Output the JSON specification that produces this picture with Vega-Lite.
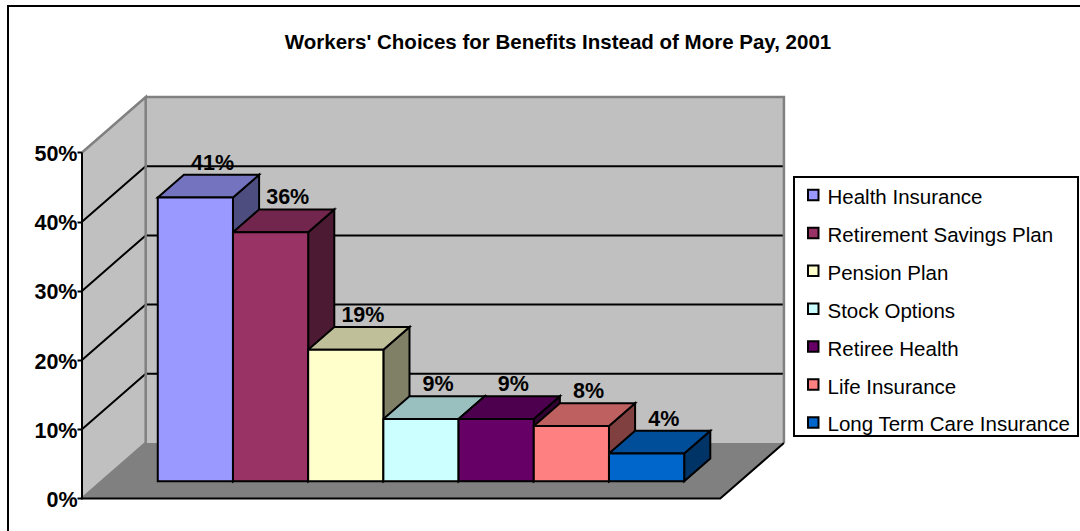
{
  "$schema": "https://vega.github.io/schema/vega-lite/v6.json",
  "width": 1072,
  "height": 525,
  "padding": {"left": 8, "top": 6, "right": 0, "bottom": 0},
  "autosize": {"type": "none"},
  "background": "white",
  "config": {"view": {"stroke": null}, "font": "Liberation Sans", "legend": {"strokeWidth": 2}},
  "title": {
    "text": "Workers' Choices for Benefits Instead of More Pay, 2001",
    "font": "Liberation Sans",
    "fontSize": 20.5,
    "fontWeight": "bold",
    "color": "black",
    "anchor": "middle",
    "dx": 14,
    "offset": -67,
    "baseline": "alphabetic"
  },
  "datasets": {
    "benefits": [
      {"benefit": "Health Insurance", "share": 41},
      {"benefit": "Retirement Savings Plan", "share": 36},
      {"benefit": "Pension Plan", "share": 19},
      {"benefit": "Stock Options", "share": 9},
      {"benefit": "Retiree Health", "share": 9},
      {"benefit": "Life Insurance", "share": 8},
      {"benefit": "Long Term Care Insurance", "share": 4}
    ],
    "percentScale": [
      {"pct": 0}, {"pct": 10}, {"pct": 20}, {"pct": 30}, {"pct": 40}, {"pct": 50}
    ]
  },
  "encoding": {
    "x": {
      "field": "u",
      "type": "quantitative",
      "axis": null,
      "scale": {"domain": [-0.984, 13.271], "nice": false, "zero": false}
    },
    "y": {
      "field": "v",
      "type": "quantitative",
      "title": null,
      "scale": {"domain": [-4.697, 71.17], "nice": false, "zero": false},
      "axis": {
        "values": [0, 10, 20, 30, 40, 50],
        "labelExpr": "datum.value + '%'",
        "offset": -74,
        "domain": false,
        "grid": false,
        "ticks": true,
        "tickSize": 5,
        "tickWidth": 2,
        "tickColor": "black",
        "labelFont": "Liberation Sans",
        "labelFontSize": 21.5,
        "labelFontWeight": "bold",
        "labelColor": "black",
        "labelPadding": 0,
        "labelOffset": 2
      }
    }
  },
  "resolve": {"scale": {"color": "independent"}},
  "layer": [
    {
      "description": "Back wall",
      "data": {"name": "percentScale"},
      "transform": [
        {"filter": "datum.pct == 50"},
        {"calculate": "0.847", "as": "u"},
        {"calculate": "8.487 + 0.847", "as": "u2"},
        {"calculate": "datum.pct + 8.02", "as": "v"},
        {"calculate": "8.02", "as": "v2"}
      ],
      "mark": {"type": "rect", "fill": "#c0c0c0"},
      "encoding": {"x2": {"field": "u2"}, "y2": {"field": "v2"}}
    },
    {
      "description": "Left wall",
      "data": {"name": "percentScale"},
      "transform": [
        {"filter": "datum.pct == 50"},
        {"calculate": "[0, 1]", "as": "d"},
        {"flatten": ["d"]},
        {"calculate": "datum.d * 0.847", "as": "u"},
        {"calculate": "datum.pct + datum.d * 8.02", "as": "v"},
        {"calculate": "datum.d * 8.02", "as": "v2"}
      ],
      "mark": {"type": "area", "fill": "#c0c0c0"},
      "encoding": {"y2": {"field": "v2"}}
    },
    {
      "description": "Floor",
      "data": {"name": "percentScale"},
      "transform": [
        {"filter": "datum.pct == 0"},
        {"calculate": "[0, 1]", "as": "d"},
        {"flatten": ["d"]},
        {"calculate": "datum.d * 0.847", "as": "u"},
        {"calculate": "8.487 + datum.d * 0.847", "as": "u2"},
        {"calculate": "datum.d * 8.02", "as": "v"}
      ],
      "mark": {"type": "area", "orient": "horizontal", "fill": "#808080"},
      "encoding": {"x2": {"field": "u2"}}
    },
    {
      "description": "Gridlines across the left and back walls",
      "data": {"name": "percentScale"},
      "transform": [
        {"filter": "datum.pct > 0 && datum.pct < 50"},
        {"calculate": "[{k: 0, a: 0, d: 0}, {k: 1, a: 0, d: 1}, {k: 2, a: 8.487, d: 1}]", "as": "p"},
        {"flatten": ["p"]},
        {"calculate": "datum.p.k", "as": "k"},
        {"calculate": "datum.p.a + datum.p.d * 0.847", "as": "u"},
        {"calculate": "datum.pct + datum.p.d * 8.02", "as": "v"}
      ],
      "mark": {"type": "line", "stroke": "black", "strokeWidth": 2},
      "encoding": {
        "detail": {"field": "pct"},
        "order": {"field": "k", "type": "quantitative"}
      }
    },
    {
      "description": "Grey wall edges",
      "data": {"name": "percentScale"},
      "transform": [
        {"filter": "datum.pct == 50"},
        {"calculate": "[{k: 0, a: 0, d: 0, h: 0}, {k: 1, a: 0, d: 1, h: 0}, {k: 2, a: 0, d: 1, h: 50}, {k: 3, a: 0, d: 0, h: 50}, {k: 4, a: 0, d: 1, h: 50}, {k: 5, a: 8.487, d: 1, h: 50}, {k: 6, a: 8.487, d: 1, h: 0}]", "as": "p"},
        {"flatten": ["p"]},
        {"calculate": "datum.p.k", "as": "k"},
        {"calculate": "datum.p.a + datum.p.d * 0.847", "as": "u"},
        {"calculate": "datum.p.h + datum.p.d * 8.02", "as": "v"}
      ],
      "mark": {"type": "line", "stroke": "#808080", "strokeWidth": 2.5},
      "encoding": {"order": {"field": "k", "type": "quantitative"}}
    },
    {
      "description": "Value axis line and the front and right floor edges",
      "data": {"name": "percentScale"},
      "transform": [
        {"filter": "datum.pct == 50"},
        {"calculate": "[{k: 0, a: 8.487, d: 1, h: 0}, {k: 1, a: 8.487, d: 0, h: 0}, {k: 2, a: 0, d: 0, h: 0}, {k: 3, a: 0, d: 0, h: 50}]", "as": "p"},
        {"flatten": ["p"]},
        {"calculate": "datum.p.k", "as": "k"},
        {"calculate": "datum.p.a + datum.p.d * 0.847", "as": "u"},
        {"calculate": "datum.p.h + datum.p.d * 8.02", "as": "v"}
      ],
      "mark": {"type": "line", "stroke": "black", "strokeWidth": 2},
      "encoding": {"order": {"field": "k", "type": "quantitative"}}
    },
    {
      "description": "Right-hand side faces of the columns",
      "data": {"name": "benefits"},
      "transform": [
        {"window": [{"op": "row_number", "as": "rank"}]},
        {"calculate": "[0.31, 0.72]", "as": "d"},
        {"flatten": ["d"]},
        {"calculate": "0.745 + datum.rank + datum.d * 0.847", "as": "u"},
        {"calculate": "datum.share + datum.d * 8.02", "as": "v"},
        {"calculate": "datum.d * 8.02", "as": "v2"}
      ],
      "mark": {"type": "area", "stroke": "black", "strokeWidth": 2},
      "encoding": {
        "y2": {"field": "v2"},
        "color": {
          "field": "benefit",
          "type": "nominal",
          "legend": null,
          "scale": {
            "domain": ["Health Insurance", "Retirement Savings Plan", "Pension Plan", "Stock Options", "Retiree Health", "Life Insurance", "Long Term Care Insurance"],
            "range": ["#4d4d80", "#4d1a33", "#808066", "#668080", "#330033", "#804040", "#003366"]
          }
        }
      }
    },
    {
      "description": "Top faces of the columns",
      "data": {"name": "benefits"},
      "transform": [
        {"window": [{"op": "row_number", "as": "rank"}]},
        {"calculate": "[0.31, 0.72]", "as": "d"},
        {"flatten": ["d"]},
        {"calculate": "0.745 + datum.rank - 1 + datum.d * 0.847", "as": "u"},
        {"calculate": "0.745 + datum.rank + datum.d * 0.847", "as": "u2"},
        {"calculate": "datum.share + datum.d * 8.02", "as": "v"}
      ],
      "mark": {"type": "area", "orient": "horizontal", "stroke": "black", "strokeWidth": 2},
      "encoding": {
        "x2": {"field": "u2"},
        "color": {
          "field": "benefit",
          "type": "nominal",
          "legend": null,
          "scale": {
            "domain": ["Health Insurance", "Retirement Savings Plan", "Pension Plan", "Stock Options", "Retiree Health", "Life Insurance", "Long Term Care Insurance"],
            "range": ["#7373bf", "#73264d", "#bfbf99", "#99bfbf", "#4d004d", "#bf6060", "#004d99"]
          }
        }
      }
    },
    {
      "description": "Front faces of the columns, carrying the legend",
      "data": {"name": "benefits"},
      "transform": [
        {"window": [{"op": "row_number", "as": "rank"}]},
        {"calculate": "0.745 + datum.rank - 1 + 0.31 * 0.847", "as": "u"},
        {"calculate": "0.745 + datum.rank + 0.31 * 0.847", "as": "u2"},
        {"calculate": "datum.share + 0.31 * 8.02", "as": "v"},
        {"calculate": "0.31 * 8.02", "as": "v2"}
      ],
      "mark": {"type": "rect", "stroke": "black", "strokeWidth": 2},
      "encoding": {
        "x2": {"field": "u2"},
        "y2": {"field": "v2"},
        "color": {
          "field": "benefit",
          "type": "nominal",
          "scale": {
            "domain": ["Health Insurance", "Retirement Savings Plan", "Pension Plan", "Stock Options", "Retiree Health", "Life Insurance", "Long Term Care Insurance"],
            "range": ["#9999ff", "#993366", "#ffffcc", "#ccffff", "#660066", "#ff8080", "#0066cc"]
          },
          "legend": {
            "title": " ",
            "titleOrient": "right",
            "titlePadding": 8,
            "titleFontSize": 1,
            "orient": "none",
            "legendX": 786,
            "legendY": 171,
            "padding": 0,
            "fillColor": "white",
            "strokeColor": "black",
            "symbolType": "square",
            "symbolSize": 110,
            "symbolOffset": 9,
            "symbolStrokeColor": "black",
            "symbolStrokeWidth": 2,
            "symbolOpacity": 1,
            "labelFont": "Liberation Sans",
            "labelFontSize": 20.5,
            "labelColor": "black",
            "labelOffset": 14,
            "labelLimit": 300,
            "rowPadding": 5.9,
            "encode": {
              "labels": {"update": {"dx": {"value": -10}, "dy": {"value": 10.8}}},
              "symbols": {"update": {"y": {"value": 18}}}
            }
          }
        }
      }
    },
    {
      "description": "Value labels above the columns",
      "data": {"name": "benefits"},
      "transform": [
        {"window": [{"op": "row_number", "as": "rank"}]},
        {"calculate": "0.745 + datum.rank - 0.45 + 0.52 * 0.847", "as": "u"},
        {"calculate": "datum.share + 0.72 * 8.02", "as": "v"},
        {"calculate": "datum.share + '%'", "as": "label"}
      ],
      "mark": {
        "type": "text",
        "font": "Liberation Sans",
        "fontSize": 21.5,
        "fontWeight": "bold",
        "color": "black",
        "align": "center",
        "baseline": "alphabetic",
        "dy": -5
      },
      "encoding": {"text": {"field": "label", "type": "nominal"}}
    },
    {
      "description": "Chart area border along the left and top",
      "data": {"name": "percentScale"},
      "transform": [
        {"filter": "datum.pct == 50"},
        {"calculate": "[{k: 0, a: -0.984, h: -4.697}, {k: 1, a: -0.984, h: 71.17}, {k: 2, a: 13.271, h: 71.17}]", "as": "p"},
        {"flatten": ["p"]},
        {"calculate": "datum.p.k", "as": "k"},
        {"calculate": "datum.p.a", "as": "u"},
        {"calculate": "datum.p.h", "as": "v"}
      ],
      "mark": {"type": "line", "stroke": "black", "strokeWidth": 2},
      "encoding": {"order": {"field": "k", "type": "quantitative"}}
    }
  ]
}
